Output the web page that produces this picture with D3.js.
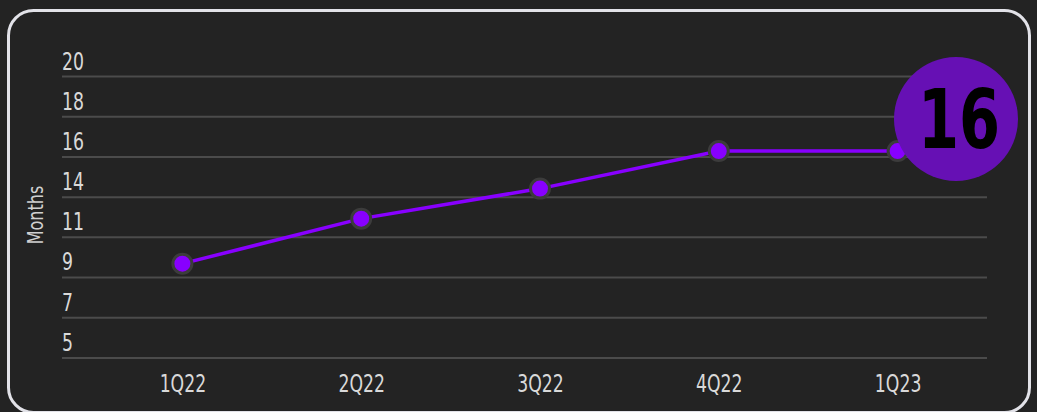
<!DOCTYPE html>
<html>
<head>
<meta charset="utf-8">
<script src="https://cdn.jsdelivr.net/npm/d3@7/dist/d3.min.js"></script>
<style>
  html, body { margin: 0; padding: 0; background: #232323; }
  svg { display: block; }
  .f { font-family: "DejaVu Sans Condensed", "DejaVu Sans", sans-serif; }
</style>
</head>
<body>
<svg id="chart" width="1037" height="412"></svg>
<script>
const categories = ["1Q22", "2Q22", "3Q22", "4Q22", "1Q23"];
const values = [10, 12.4, 14, 16, 16];
const tickValues = [5, 7.14, 9.29, 11.43, 13.57, 15.71, 17.86, 20];
const tickLabels = ["5", "7", "9", "11", "14", "16", "18", "20"];
const yLabel = "Months";
const badgeValue = "16";

const svg = d3.select("#chart");
const W = 1037, H = 412;

svg.append("rect").attr("width", W).attr("height", H).attr("fill", "#232323");
svg.append("rect")
  .attr("x", 8.5).attr("y", 10.5).attr("width", 1021).attr("height", 402)
  .attr("rx", 25).attr("ry", 25)
  .attr("fill", "#232323").attr("stroke", "#e2e2e8").attr("stroke-width", 3);

const x = d3.scalePoint().domain(categories).range([93, 987]).padding(0.5);
const y = d3.scaleLinear().domain([5, 20]).range([357.5, 76]);

// y axis with gridlines
const yAxis = d3.axisRight(y)
  .tickValues(tickValues)
  .tickSize(925)
  .tickFormat((d, i) => tickLabels[i]);
const yg = svg.append("g").attr("class", "f").attr("transform", "translate(62,0)").call(yAxis);
yg.select(".domain").remove();
yg.selectAll(".tick line").attr("stroke", "#4b4b4b").attr("stroke-width", 2);
yg.selectAll(".tick text")
  .attr("x", 0).attr("y", 0).attr("dy", 0)
  .attr("transform", "translate(0,-7) scale(0.8,1)")
  .attr("text-anchor", "start")
  .attr("fill", "#d9d9d9")
  .style("font-size", "24px");

// x axis
const xAxis = d3.axisBottom(x).tickSize(0).tickPadding(0);
const xg = svg.append("g").attr("class", "f").attr("transform", "translate(0,372)").call(xAxis);
xg.select(".domain").remove();
xg.selectAll(".tick text")
  .attr("y", 0).attr("dy", 0)
  .attr("transform", "translate(0,20) scale(0.8,1)")
  .attr("fill", "#d9d9d9")
  .style("font-size", "24px");

// y label
svg.append("text").attr("class", "f")
  .attr("transform", "translate(43,215) rotate(-90) scale(0.85,1)")
  .attr("text-anchor", "middle")
  .attr("fill", "#d0d0d0")
  .style("font-size", "21px")
  .text(yLabel);

const data = categories.map((c, i) => ({ c, v: values[i] }));

// line
svg.append("path")
  .datum(data)
  .attr("fill", "none")
  .attr("stroke", "#8800ff")
  .attr("stroke-width", 3.5)
  .attr("d", d3.line().x(d => x(d.c)).y(d => y(d.v)));

// points
svg.selectAll("circle.pt")
  .data(data)
  .join("circle")
  .attr("class", "pt")
  .attr("cx", d => x(d.c))
  .attr("cy", d => y(d.v))
  .attr("r", 9.5)
  .attr("fill", "#8800ff")
  .attr("stroke", "#3c3c3c")
  .attr("stroke-width", 3);

// badge
svg.append("circle")
  .attr("cx", 956).attr("cy", 119).attr("r", 62)
  .attr("fill", "#6610b4");
svg.append("text").attr("class", "f")
  .attr("transform", "translate(959,148) scale(0.8,1)")
  .attr("text-anchor", "middle")
  .attr("fill", "#000")
  .style("font-size", "82px")
  .style("font-weight", "bold")
  .text(badgeValue);
</script>
</body>
</html>
